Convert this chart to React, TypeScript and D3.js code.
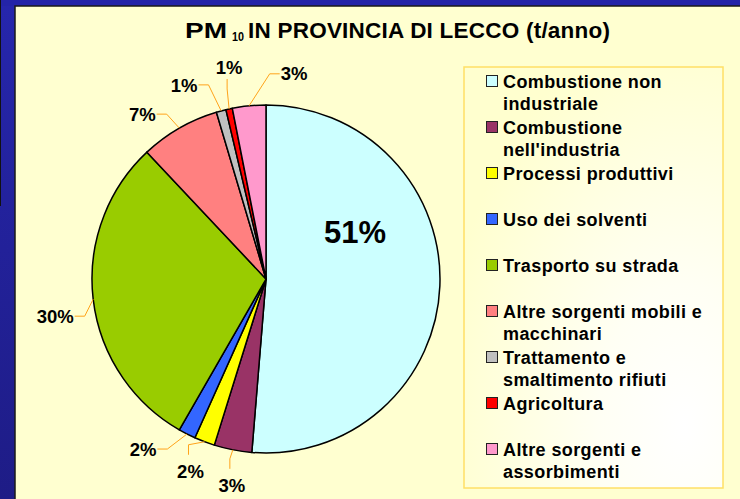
// PM10 emissions in the province of Lecco, share by source sector
import React from 'react';
import * as d3 from 'd3';

const categories = [
  'Combustione non\nindustriale',
  'Combustione\nnell\'industria',
  'Processi produttivi',
  'Uso dei solventi',
  'Trasporto su strada',
  'Altre sorgenti mobili e\nmacchinari',
  'Trattamento e\nsmaltimento rifiuti',
  'Agricoltura',
  'Altre sorgenti e\nassorbimenti'
];
const shares = [51.3, 3.5, 1.9, 1.6, 29.7, 7.4, 0.9, 0.6, 3.1];
const pctLabels = ['51%', '3%', '2%', '2%', '30%', '7%', '1%', '1%', '3%'];
const sliceColors = ['#CCFFFF', '#993366', '#FFFF00', '#3366FF', '#99CC00', '#FF8080', '#C0C0C0', '#FF0000', '#FF99CC'];

// where excel put each label, relative to the point on the rim (first one relative to centre)
const labelOffsets = [
  { dx: 89, dy: -47, kind: 'in' },
  { dx: -1, dy: 36, kind: 'v' },
  { dx: -14, dy: 30, kind: 'v' },
  { dx: -44, dy: 15, kind: 'h' },
  { dx: -38, dy: 17, kind: 'h' },
  { dx: -37, dy: -14, kind: 'h' },
  { dx: -37, dy: -26, kind: 'h' },
  { dx: 0, dy: -42, kind: 'v' },
  { dx: 45, dy: -32, kind: 'h' }
];

const W = 740, H = 499;
const cx = 266, cy = 279, r = 174;
const FONT = '"Liberation Sans", Arial, Helvetica, sans-serif';

function textWidth(s: string, size: number) {
  let em = 0;
  for (const ch of s) em += ch === '%' ? 0.889 : 0.556;
  return em * size;
}

export default function App() {
  const pieFn = d3.pie<number>().sort(null).value(d => d);
  const arcs = pieFn(shares);
  const arcFn = d3.arc<d3.PieArcDatum<number>>().innerRadius(0).outerRadius(r);
  const line = d3.line();

  const legendY = d3.scaleLinear().domain([0, categories.length - 1]).range([81, 449]);

  const labelFs = 18.5;

  return (
    <div style={{ position: 'absolute', left: 0, top: 0 }}>
      <svg width={W} height={H} style={{ display: 'block' }}>
        <defs>
          <linearGradient id="side" x1="0" y1="0" x2="0" y2="1">
            <stop offset="0" stopColor="#2626AC" />
            <stop offset="1" stopColor="#1E1C86" />
          </linearGradient>
          <radialGradient id="legbg" cx="0.85" cy="0.85" r="0.95">
            <stop offset="0" stopColor="#FFFFFF" />
            <stop offset="0.35" stopColor="#FFFFF4" />
            <stop offset="1" stopColor="#FFFFCF" />
          </radialGradient>
        </defs>
        <rect x={0} y={0} width={W} height={H} fill="url(#side)" />
        <rect x={0} y={0} width={W} height={6} fill="#2424A8" />
        <line x1={0.5} y1={0} x2={0.5} y2={206} stroke="#111" strokeWidth={1} />
        <rect x={15} y={6} width={W - 14} height={H - 5} fill="#FFFFD0" stroke="#1a1a1a" strokeWidth={1.5} />

        {/* title */}
        <text x={185} y={37.5} fontFamily={FONT} fontWeight="bold" fontSize={22.5}
          textLength={42} lengthAdjust="spacingAndGlyphs">PM</text>
        <text x={232} y={41} fontFamily={FONT} fontWeight="bold" fontSize={13.5}
          textLength={12} lengthAdjust="spacingAndGlyphs">10</text>
        <text x={248} y={37.5} fontFamily={FONT} fontWeight="bold" fontSize={22.5}
          textLength={362}>IN PROVINCIA DI LECCO (t/anno)</text>

        {/* pie */}
        <g transform={`translate(${cx},${cy})`}>
          {arcs.map((a, i) => (
            <path key={i} d={arcFn(a) || ''} fill={sliceColors[i]} stroke="#000" strokeWidth={1.5} strokeLinejoin="round" />
          ))}
        </g>

        {/* labels with leader lines */}
        {arcs.map((a, i) => {
          const mid = (a.startAngle + a.endAngle) / 2;
          const ax = cx + r * Math.sin(mid);
          const ay = cy - r * Math.cos(mid);
          const off = labelOffsets[i];
          if (off.kind === 'in') {
            return (
              <text key={i} x={cx + off.dx} y={cy + off.dy + 11} textAnchor="middle"
                fontFamily={FONT} fontWeight="bold" fontSize={31}>{pctLabels[i]}</text>
            );
          }
          const lx = ax + off.dx, ly = ay + off.dy;
          const w = textWidth(pctLabels[i], labelFs);
          let pts: [number, number][];
          if (off.kind === 'h') {
            const ex = off.dx < 0 ? lx + w / 2 + 1 : lx - w / 2 - 1;
            const kx = off.dx < 0 ? ex + 10 : ex - 10;
            pts = [[ax, ay], [kx, ly], [ex, ly]];
          } else {
            const ex = lx - 2;
            const ey = off.dy < 0 ? ly + 12 : ly - 17;
            const ky = off.dy < 0 ? ey + 10 : ey - 10;
            pts = [[ax, ay], [ex, ky], [ex, ey]];
          }
          return (
            <g key={i}>
              <path d={line(pts) || ''} fill="none" stroke="#FFA31A" strokeWidth={1} />
              <text x={lx} y={ly + labelFs * 0.36} textAnchor="middle"
                fontFamily={FONT} fontWeight="bold" fontSize={labelFs}>{pctLabels[i]}</text>
            </g>
          );
        })}

        {/* legend */}
        <rect x={464} y={67} width={259} height={421} fill="url(#legbg)" stroke="#FFE066" strokeWidth={1.5} />
        {categories.map((c, i) => {
          const y0 = legendY(i);
          return (
            <g key={i}>
              <rect x={486.5} y={y0 - 5.5} width={11} height={11} fill={sliceColors[i]} stroke="#222" strokeWidth={1} />
              <text fontFamily={FONT} fontWeight="bold" fontSize={18} letterSpacing={0.4}>
                {c.split('\n').map((ln, j) => (
                  <tspan key={j} x={503} y={y0 + 6.5 + j * 22.5}>{ln}</tspan>
                ))}
              </text>
            </g>
          );
        })}
      </svg>
    </div>
  );
}
